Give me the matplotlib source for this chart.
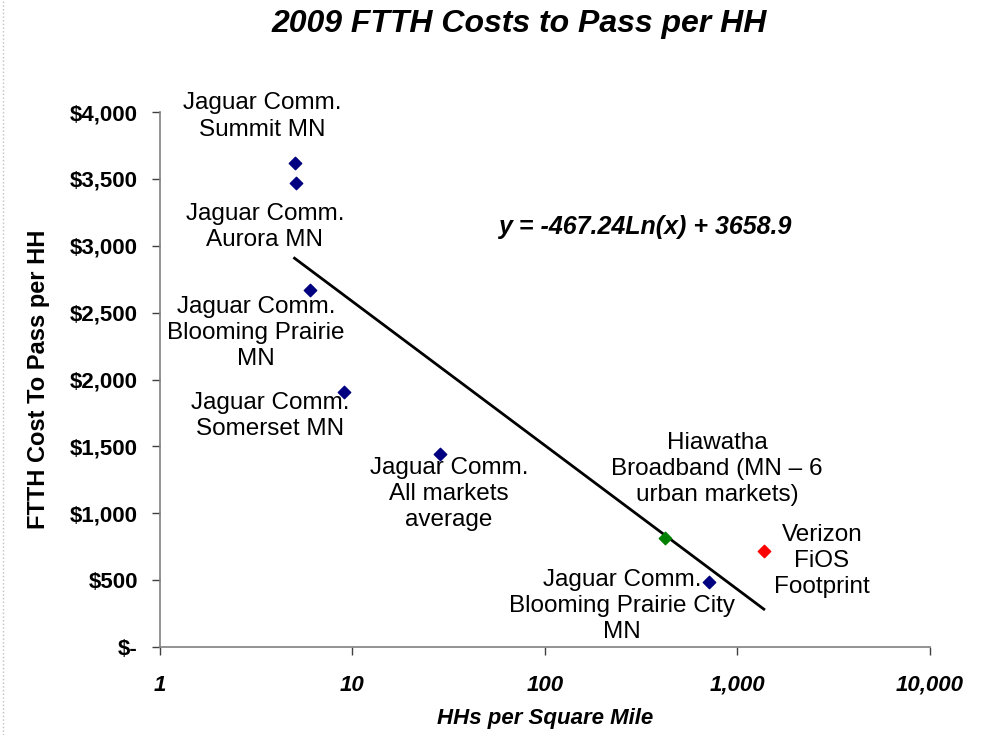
import numpy as np
import matplotlib
matplotlib.use("Agg")
import matplotlib.pyplot as plt
from matplotlib.ticker import FuncFormatter, FixedLocator, NullLocator
from matplotlib.lines import Line2D

plt.rcParams['font.family'] = ['Liberation Sans', 'DejaVu Sans']

# Jaguar Comm. markets (navy)
jag_x = [5, 5.1, 6, 9, 28.5, 711]
jag_y = [3620, 3470, 2670, 1910, 1445, 486]
# Hiawatha Broadband (green)
hia_x = [420]
hia_y = [813]
# Verizon FiOS (red)
vz_x = [1373]
vz_y = [718]

# trend line coefficients (log fit shown on the chart)
trend_a = -467.24
trend_b = 3658.9

labels = [
    ("Jaguar Comm.\nSummit MN", 3.39, 3966),
    ("Jaguar Comm.\nAurora MN", 3.51, 3140),
    ("Jaguar Comm.\nBlooming Prairie\nMN", 3.15, 2348),
    ("Jaguar Comm.\nSomerset MN", 3.73, 1727),
    ("Jaguar Comm.\nAll markets\naverage", 31.7, 1144),
    ("Hiawatha\nBroadband (MN \u2013 6\nurban markets)", 783, 1331),
    ("Verizon\nFiOS\nFootprint", 2748, 643),
    ("Jaguar Comm.\nBlooming Prairie City\nMN", 251, 307),
]

x_ticks = [1, 10, 100, 1000, 10000]
y_ticks = [0, 500, 1000, 1500, 2000, 2500, 3000, 3500, 4000]

fig = plt.figure(figsize=(9.86, 7.35), dpi=100)
ax = fig.add_axes([0.1623, 0.1197, 0.943 - 0.1623, 0.8476 - 0.1197])

ax.scatter(jag_x, jag_y, marker='D', s=40, color='#000080', zorder=3)
ax.scatter(hia_x, hia_y, marker='D', s=40, color='#008000', zorder=3)
ax.scatter(vz_x, vz_y, marker='D', s=40, color='#ff0000', zorder=3)

all_x = jag_x + hia_x + vz_x
tx = np.linspace(min(all_x), max(all_x), 200)
ax.plot(tx, trend_a * np.log(tx) + trend_b, color='black', lw=2, zorder=2)

for txt, lx, ly in labels:
    ax.text(lx, ly, txt, ha='center', va='center', fontsize=17.5,
            linespacing=1.25, color='black')

ax.text(331, 3140, "y = -467.24Ln(x) + 3658.9", ha='center', va='center',
        fontsize=18, fontweight='bold', fontstyle='italic')

ax.set_xscale('log')
ax.set_xlim(1, 10000)
ax.set_ylim(0, 4000)
ax.xaxis.set_major_locator(FixedLocator(x_ticks))
ax.xaxis.set_minor_locator(NullLocator())
ax.yaxis.set_major_locator(FixedLocator(y_ticks))
ax.xaxis.set_major_formatter(FuncFormatter(lambda v, p: f"{v:,.0f}"))
ax.yaxis.set_major_formatter(FuncFormatter(lambda v, p: "$-" if v == 0 else f"${v:,.0f}"))

for s in ['top', 'right']:
    ax.spines[s].set_visible(False)
for s in ['left', 'bottom']:
    ax.spines[s].set_color('#808080')
    ax.spines[s].set_linewidth(1.2)
ax.tick_params(axis='both', colors='#404040', length=6, width=1)
ax.tick_params(axis='x', pad=14, labelsize=16, labelcolor='black')
ax.tick_params(axis='y', pad=10, labelsize=16, labelcolor='black')
for lab in ax.get_xticklabels():
    lab.set_fontweight('bold')
    lab.set_fontstyle('italic')
for lab in ax.get_yticklabels():
    lab.set_fontweight('bold')

ax.set_ylabel("FTTH Cost To Pass per HH", fontsize=17, fontweight='bold', labelpad=14)
fig.text(0.553, 0.023, "HHs per Square Mile", ha='center', va='center',
         fontsize=16, fontweight='bold', fontstyle='italic')

fig.text(0.527, 0.968, "2009 FTTH Costs to Pass per HH", ha='center', va='center',
         fontsize=23, fontweight='bold', fontstyle='italic')

fig.add_artist(Line2D([0.003, 0.003], [0.0, 1.0], transform=fig.transFigure,
                      color='#c0c0c0', lw=1, ls=':'))

fig.savefig("out.png", dpi=100)
